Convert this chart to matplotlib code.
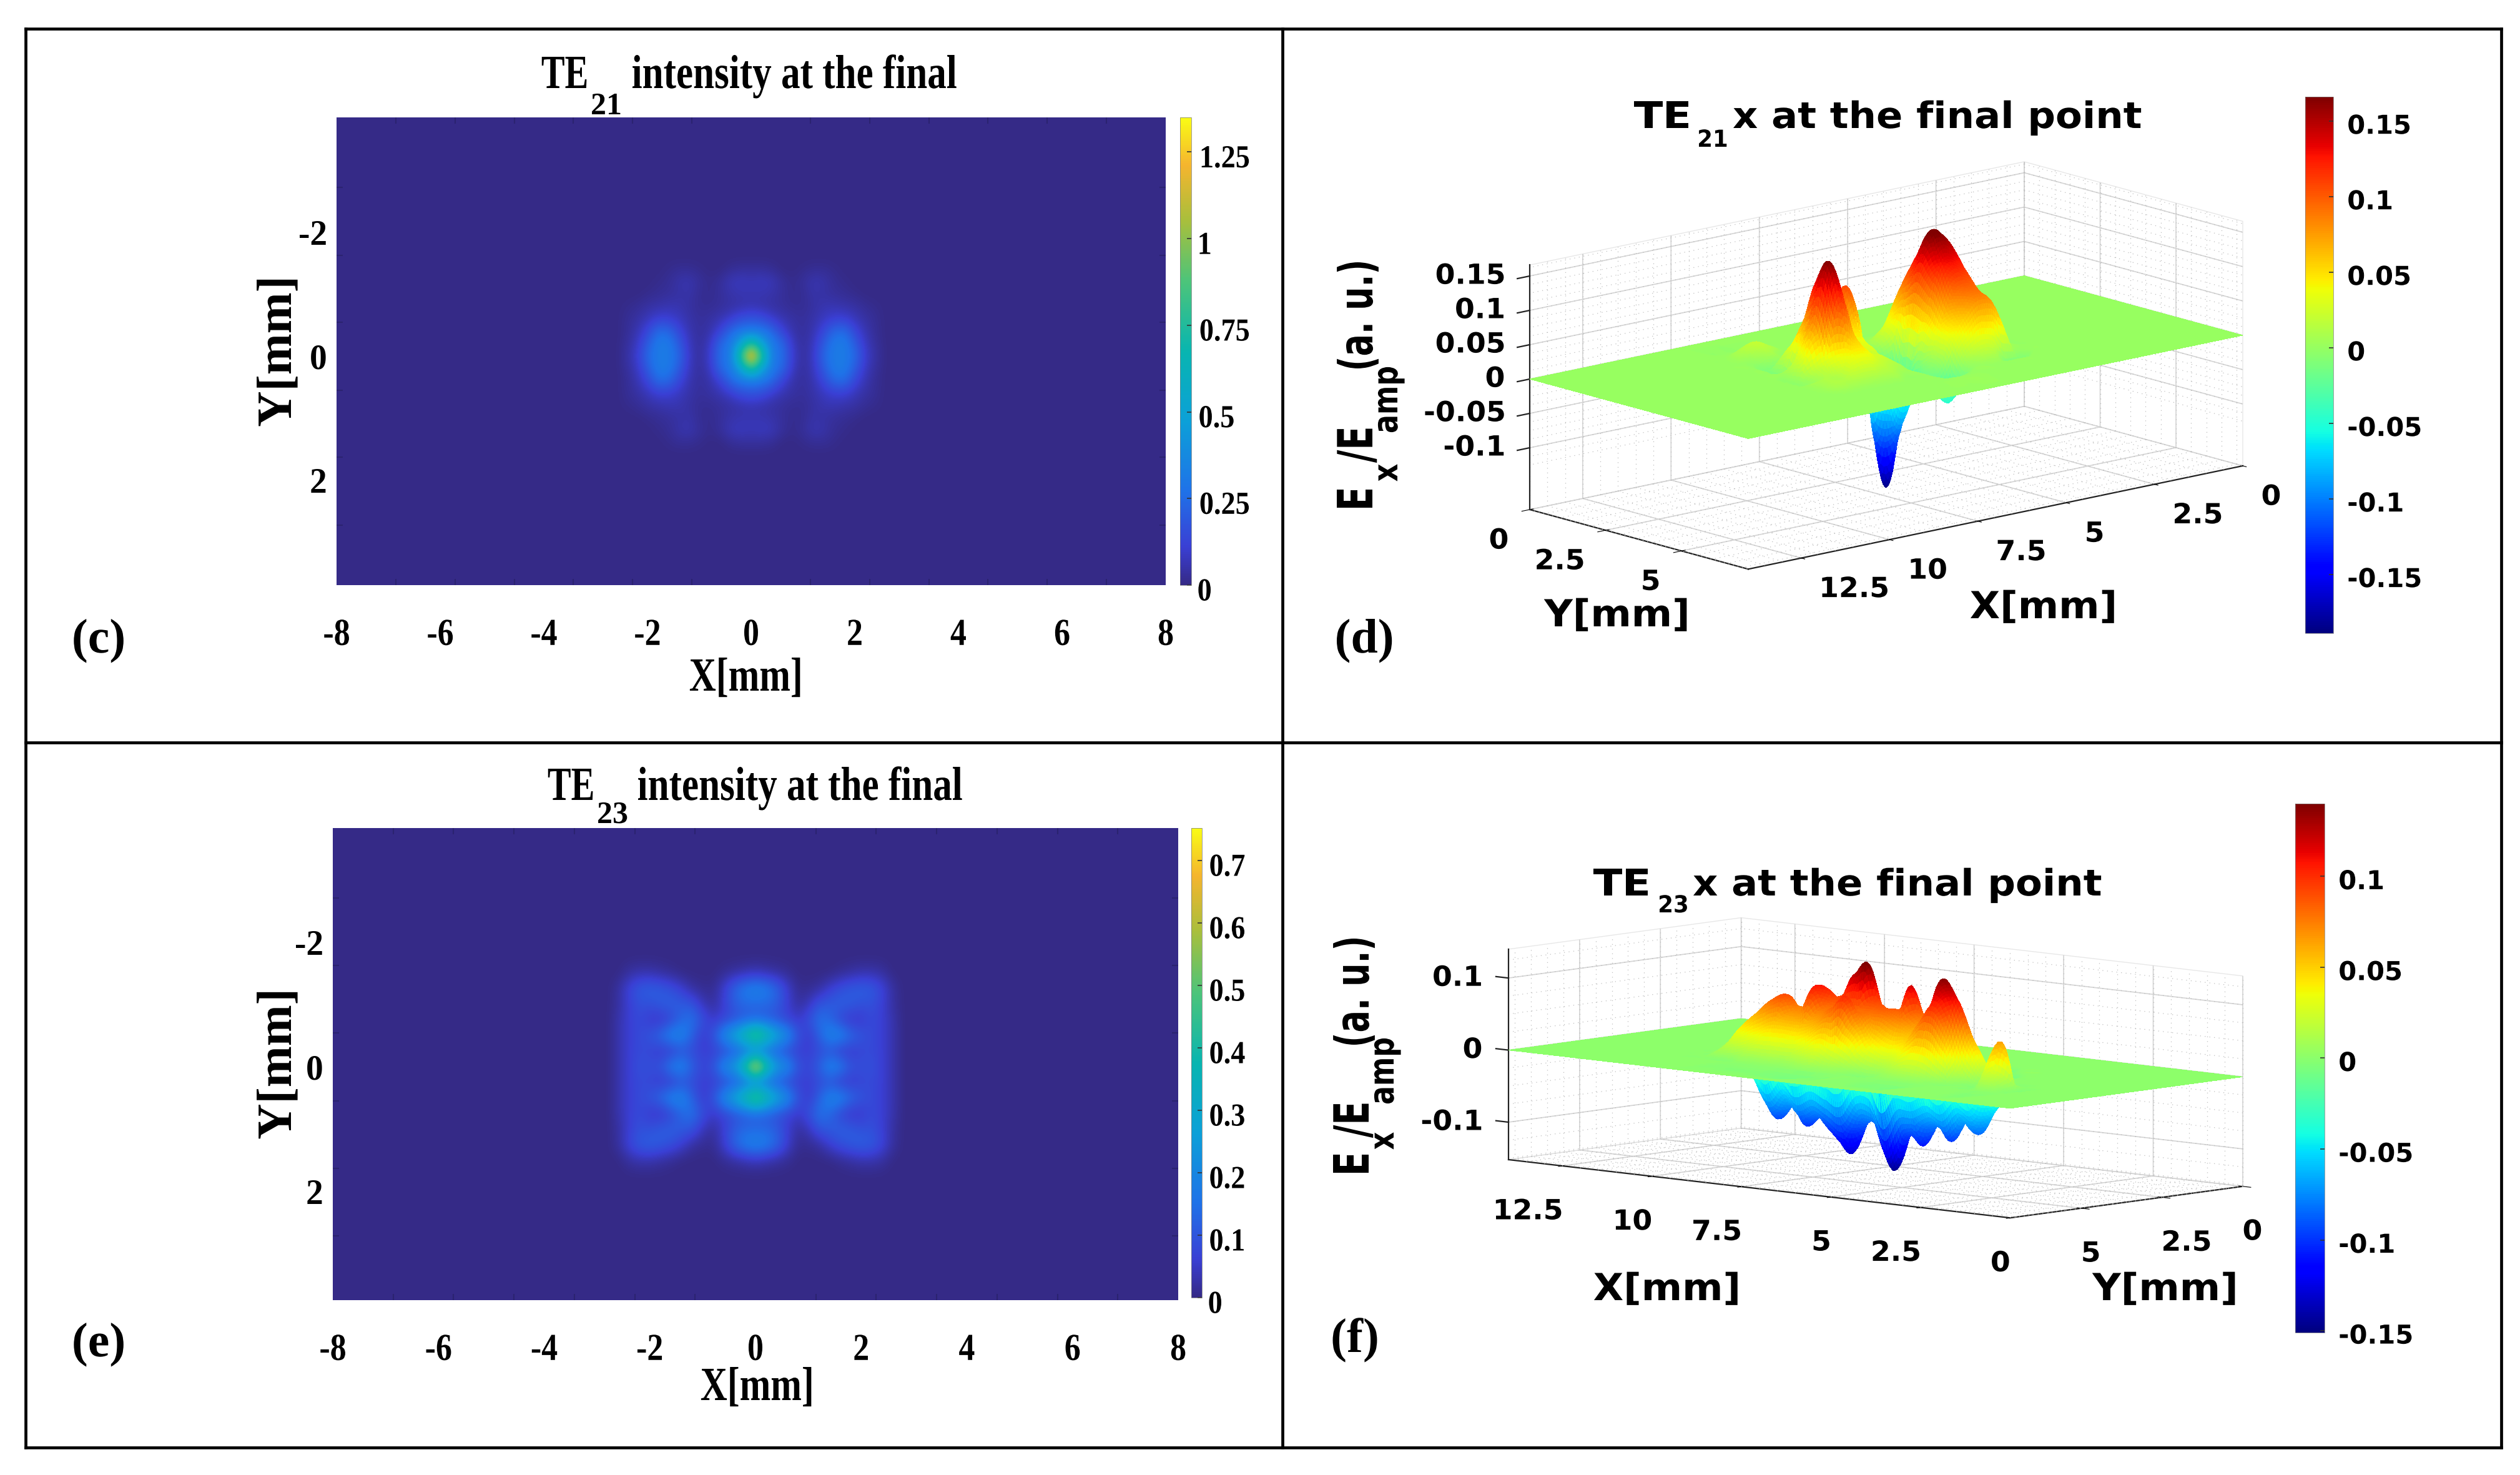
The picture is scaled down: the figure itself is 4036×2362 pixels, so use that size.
import numpy as np
import matplotlib
matplotlib.use("Agg")
import matplotlib.pyplot as plt
from matplotlib.colors import LinearSegmentedColormap, Normalize
from matplotlib.cm import ScalarMappable
from matplotlib.lines import Line2D
from matplotlib.patheffects import AbstractPathEffect
from matplotlib.transforms import Affine2D, ScaledTranslation
from matplotlib.tri import CubicTriInterpolator, Triangulation, UniformTriRefiner
from mpl_toolkits.mplot3d import proj3d

W, H = 4037, 2362

# intensity maps, one quadrant (x>=0, y>=0), mirrored later
c_x = [0, 0.2, 0.4, 0.6, 0.8, 1.0, 1.2, 1.4, 1.6, 1.8, 2.0, 2.2, 2.4, 2.6]
c_y = [0, 0.2, 0.4, 0.6, 0.8, 1.0, 1.2, 1.4, 1.6]
c_int = [
    [1.35, .80, .30, .26, .10, .03, .09, .24, .31, .31, .24, .10, .04, 0],
    [.80, .50, .30, .24, .08, .03, .08, .20, .31, .31, .20, .08, .03, 0],
    [.30, .29, .24, .12, .05, .03, .06, .14, .24, .25, .13, .06, .02, 0],
    [.18, .16, .10, .06, .04, .03, .05, .08, .11, .11, .07, .04, .02, 0],
    [.06, .05, .04, .03, .02, .02, .04, .06, .06, .05, .04, .02, .01, 0],
    [.06, .06, .05, .03, .01, .02, .05, .04, .03, .02, .01, 0, 0, 0],
    [.07, .08, .07, .03, .01, .03, .06, .05, .02, .01, 0, 0, 0, 0],
    [.03, .03, .02, 0, 0, .01, .02, .02, .01, 0, 0, 0, 0, 0],
    [0, 0, 0, 0, 0, 0, 0, 0, 0, 0, 0, 0, 0, 0],
]
e_x = [0, 0.2, 0.4, 0.6, 0.8, 1.0, 1.2, 1.4, 1.6, 1.8, 2.0, 2.2, 2.4, 2.6, 2.8]
e_y = [0, 0.25, 0.5, 0.75, 1.0, 1.25, 1.5, 1.75]
e_int = [
    [.75, .45, .26, .22, .10, .07, .12, .20, .18, .10, .09, .09, .06, .03, 0],
    [.14, .12, .10, .07, .06, .06, .08, .09, .05, .05, .07, .08, .06, .03, 0],
    [.55, .42, .30, .22, .10, .05, .12, .20, .20, .14, .10, .08, .06, .03, 0],
    [.12, .11, .09, .07, .05, .09, .15, .13, .07, .04, .05, .08, .06, .03, 0],
    [.13, .13, .11, .06, .02, .04, .10, .11, .12, .11, .09, .09, .06, .02, 0],
    [.20, .18, .13, .06, .01, .01, .02, .06, .09, .11, .12, .11, .07, .02, 0],
    [.04, .03, .02, .01, 0, 0, 0, 0, .01, .02, .03, .03, .02, 0, 0],
    [0, 0, 0, 0, 0, 0, 0, 0, 0, 0, 0, 0, 0, 0, 0],
]

# Ex surfaces, hundredths of a.u., only the active part of the plane (rest is 0)
d_x = [3.8, 4.2, 4.6, 5.0, 5.4, 5.8, 6.2, 6.6, 7.0, 7.4, 7.8, 8.2, 8.6, 9.0, 9.4, 9.8, 10.2]
d_y = [1.6, 2.0, 2.4, 2.8, 3.2, 3.6, 4.0, 4.4, 4.8, 5.2, 5.6]
d_z = [
    [0, 0, 0, 0, 0, 0, 0, 0, 0, 0, 0, 0, 1, 2, 1, 0, 0],
    [0, 0, 0, 0, 0, 0, 0, 0, -1, -1, 0, 0, 0, 1, 0, 0, 0],
    [0, 0, 0, 1, 2, 2, 1, 0, -1, 2, 3, 1, 0, -1, -1, 0, 0],
    [0, 0, 1, 4, 8, 9, 4, 1, -2, 5, 7, 2, 2, 3, -1, 0, 0],
    [0, -1, 2, 9, 13, 13, 6, -2, -10, 5, 10.5, 3, 4, 7, -2, 0, 0],
    [0, -1, 3, 11, 16, 16.5, 7, -8, -19, -9, 5, 1, 7, 13, 4, 0, 0],
    [0, 0, 3, 10, 13, 13, 6, -4, -10, -4, 3, 2, 11, 16.5, 8, 0, 0],
    [0, 0, 2, 8, 10, 9, 4, -1, -3, 0, 2, 3, 6, 11, 3, 0, 0],
    [0, 0, 1, 7, 8, 6, 3, -1, -1, 0, 1, 2, 4, 4, 1, 1, 0],
    [0, 0, -1, -1, 2, 2, 0, -5, -3, 0, 0, 1, 1, 1, 1, 1, 0],
    [0, 0, 0, 0, 0, 0, 0, -1, -1, 0, 0, 0, 0, 0, 0, 0, 0],
]
f_x = [11.2, 10.8, 10.4, 10.0, 9.6, 9.2, 8.8, 8.4, 8.0, 7.6, 7.2, 6.8, 6.4, 6.0, 5.6,
       5.2, 4.8, 4.4, 4.0, 3.6, 3.2, 2.8, 2.4, 2.0]
f_y = [2.0, 2.4, 2.8, 3.2, 3.6, 4.0, 4.4, 4.8, 5.2]
f_z = [
    [0, 0, 0, 0, 0, 0, 0, 0, 0, 0, 0, 0, 0, 0, 0, 0, 0, 0, 0, 0, 0, 0, 0, 0],
    [0, 0, 0, -1, -1, -1, -1, -1, -2, -2, -1, -2, -2, -1, -1, -1, -1, -1, 0, 0, 0, 0, 0, 0],
    [0, 0, -1, -3, -3, -3, -3, -3, -4, -4, -3, -4, -4, -3, -3, -2, -2, -2, -1, 0, 0, 0, 0, 0],
    [0, -1, -7, -9.5, -7.5, -10, -8.5, -11, -13.3, -9, -9, -14.9, -10, -11.1, -8, -10, -7, -8.5, -5, -1, 0, 0, 0, 0],
    [0, 0, -4, -7, -5, -7, -6, -7, -8, -5, -5, -9, -6, -6, -5, -6, -4, -5, -2, 0, 0, 0, 0, 0],
    [0, 0, 2, 4, 5, 6, 6, 6, 7, 8, 12, 14, 8, 7, 11.5, 7, 6, 5, 3, 1, 0, 0, 0, 0],
    [0, 0, 1, 4, 6, 8, 9, 7, 10.6, 8, 8, 8, 8, 8, 7, 6, 8, 13.7, 11.2, 6, 2, 0, 0, 0],
    [0, 0, 0, 2, 3, 4, 5, 5, 5, 6, 8, 10, 7, 4, 3, 4, 7, 9.5, 7, 2, 0, 1, 6.4, 0],
    [0, 0, 0, 0, 0, 1, 1, 1, 1, 2, 3, 2, 1, 0, 0, 1, 2, 2, 1, 0, 0, 0, 2, 0],
]

# tick labels
map_xticks = [-8, -6, -4, -2, 0, 2, 4, 6, 8]
map_yticks = [-2, 0, 2]
c_cbar = [0, 0.25, 0.5, 0.75, 1, 1.25]
e_cbar = [0, 0.1, 0.2, 0.3, 0.4, 0.5, 0.6, 0.7]
d_cbar = [-0.15, -0.1, -0.05, 0, 0.05, 0.1, 0.15]
f_cbar = [-0.15, -0.1, -0.05, 0, 0.05, 0.1]
d_zticks = [-0.1, -0.05, 0, 0.05, 0.1, 0.15]
f_zticks = [-0.1, 0, 0.1]
surf_xticks = [0, 2.5, 5, 7.5, 10, 12.5]
surf_yticks = [0, 2.5, 5]

parula = LinearSegmentedColormap.from_list("parula_like", [
    (0.00, "#352a87"), (0.08, "#3a3fd4"), (0.20, "#1f72e8"), (0.35, "#0ca0d8"),
    (0.50, "#08b5b0"), (0.65, "#4cc47a"), (0.78, "#a8bf3c"), (0.90, "#f5b52e"),
    (1.00, "#f9fb15")])

SERIF = "Liberation Serif"
SANS = "DejaVu Sans"


class Squeeze(AbstractPathEffect):
    # the original text is stretched or narrowed along its direction
    def __init__(self, k):
        super().__init__()
        self.k = k

    def draw_path(self, renderer, gc, tpath, affine, rgbFace=None):
        box = tpath.get_extents()
        mid = (box.x0 + box.x1) / 2
        t = Affine2D().translate(-mid, 0).scale(self.k, 1).translate(mid, 0)
        renderer.draw_path(gc, tpath, t + affine, rgbFace)


fig = plt.figure(figsize=(W / 100, H / 100), dpi=100, facecolor="white")


def px_text(x, y, s, size, family=SERIF, k=1.0, rot=0, ha="center", va="baseline"):
    fig.text(x / W, 1 - y / H, s, fontsize=size, family=family, weight="bold",
             rotation=rot, rotation_mode="anchor", ha=ha, va=va,
             path_effects=[Squeeze(k)])


def fmt(v):
    return f"{v:g}"


def add_colorbar(box, cmap, vmin, vmax, ticks, size, family, k, pad, drop):
    cax = fig.add_axes([box[0] / W, 1 - box[3] / H, (box[2] - box[0]) / W, (box[3] - box[1]) / H])
    cb = fig.colorbar(ScalarMappable(Normalize(vmin, vmax), cmap), cax=cax)
    cb.set_ticks(ticks)
    cb.set_ticklabels([fmt(t) for t in ticks])
    cb.outline.set_linewidth(0.5)
    cb.outline.set_edgecolor("#777777")
    cax.tick_params(length=5, width=1.2, direction="in", pad=pad, color="#333333")
    shift = ScaledTranslation(0, -drop / 100, fig.dpi_scale_trans)
    for lab in cax.get_yticklabels():
        lab.set_fontsize(size)
        lab.set_family(family)
        lab.set_weight("bold")
        lab.set_path_effects([Squeeze(k)])
        lab.set_transform(lab.get_transform() + shift)


def intensity_panel(box, xq, yq, zq, vmax, ycen_lims, cbar_box, cbar_ticks):
    ax = fig.add_axes([box[0] / W, 1 - box[3] / H, (box[2] - box[0]) / W, (box[3] - box[1]) / H])
    q = np.array(zq)
    full = np.vstack([q[:0:-1], q])
    full = np.hstack([full[:, :0:-1], full])
    dx = xq[1] - xq[0]
    dy = yq[1] - yq[0]
    ax.set_facecolor(parula(0))
    ax.imshow(full, cmap=parula, vmin=0, vmax=vmax, interpolation="bicubic", aspect="auto",
              extent=[-xq[-1] - dx / 2, xq[-1] + dx / 2, yq[-1] + dy / 2, -yq[-1] - dy / 2])
    ax.set_xlim(-8, 8)
    ax.set_ylim(ycen_lims[1], ycen_lims[0])
    ax.set_xticks(map_xticks)
    ax.set_xticklabels([fmt(t) for t in map_xticks])
    ax.set_yticks(map_yticks)
    ax.set_yticklabels([fmt(t) for t in map_yticks])
    ax.set_xticks([-8 + i * 8 / 7 for i in range(15)], minor=True)
    ax.set_yticks([-2.72, -1.63, -0.545, 0.545, 1.63, 2.72], minor=True)
    ax.tick_params(which="major", length=0)
    ax.tick_params(which="minor", direction="in", length=7, width=1.5, color="#2b2370",
                   top=True, right=True)
    ax.tick_params(axis="x", which="major", pad=38)
    ax.tick_params(axis="y", which="major", pad=11)
    for lab in ax.get_xticklabels():
        lab.set_fontsize(44)
        lab.set_family(SERIF)
        lab.set_weight("bold")
        lab.set_path_effects([Squeeze(0.85)])
    for lab in ax.get_yticklabels():
        lab.set_fontsize(40)
        lab.set_family(SERIF)
        lab.set_weight("bold")
    for sp in ax.spines.values():
        sp.set_visible(False)
    add_colorbar(cbar_box, parula, 0, vmax, cbar_ticks, 37, SERIF, 0.9, 6, 7)


def to_px(ax, p):
    xs, ys, _ = proj3d.proj_transform(p[0], p[1], p[2], ax.get_proj())
    dx, dy = ax.transData.transform((xs, ys))
    return dx, H - dy


def fit_box(ax, p_a, p_b, a_px, b_px):
    # scale and shift the axes so two floor corners land where they are in the picture
    ax.apply_aspect()
    a, b = to_px(ax, p_a), to_px(ax, p_b)
    k = (b_px[0] - a_px[0]) / (b[0] - a[0])
    pos = ax.get_position(original=True)
    ax.set_position([pos.x0, pos.y0, pos.width * k, pos.height * k])
    ax.apply_aspect()
    a = to_px(ax, p_a)
    pos = ax.get_position(original=True)
    ax.set_position([pos.x0 + (a_px[0] - a[0]) / W, pos.y0 - (a_px[1] - a[1]) / H,
                     pos.width, pos.height])
    ax.apply_aspect()


def surface_panel(xn, yn, zn, zlim, view, aspect, pane_x, z_corner, p_a, p_b, a_px, b_px, zticks):
    ax = fig.add_axes([0.5, 0.3, 1400 / W, 1400 / H], projection="3d", computed_zorder=False)
    ax.set_proj_type("ortho")
    ax.patch.set_alpha(0)
    ax.set_xlim(0, 14)
    ax.set_ylim(0, 7.2)
    ax.set_zlim(*zlim)
    ax.view_init(elev=view[0], azim=view[1])
    ax.set_box_aspect(aspect)

    # two rings of zero nodes keep the plane flat outside the read block
    xs = sorted(xn)
    order = np.argsort(xn)
    xa = np.array([0, xs[0] - 0.4] + xs + [xs[-1] + 0.4, 14.0])
    ya = np.array([0, yn[0] - 0.4] + list(yn) + [yn[-1] + 0.4, 7.2])
    z = np.pad(np.array(zn)[:, order] / 100, 2)
    xg, yg = np.meshgrid(xa, ya)
    tri = Triangulation(xg.ravel(), yg.ravel())
    # display only: the library refiner smooths the drawing of the read table
    interp = CubicTriInterpolator(tri, z.ravel(), kind="geom")
    fine_tri, fine_z = UniformTriRefiner(tri).refine_field(z.ravel(), triinterpolator=interp, subdiv=3)
    ax.plot_trisurf(fine_tri, fine_z, cmap="jet", vmin=zlim[0], vmax=zlim[1],
                    linewidth=0, antialiased=False, shade=False, zorder=5)

    ax.set_xticks(surf_xticks)
    ax.set_yticks(surf_yticks)
    ax.set_zticks(zticks)
    ax.set_xticklabels([])
    ax.set_yticklabels([])
    ax.set_zticklabels([])
    for axis in (ax.xaxis, ax.yaxis, ax.zaxis):
        axis.pane.set_facecolor("white")
        axis.pane.set_edgecolor("#d0d0d0")
        axis.line.set_color("#222222")
        axis.line.set_linewidth(1.6)
        axis._axinfo["grid"].update(color="#d4d4d4", linewidth=1.2)

    # z axis goes on the left edge whatever the view, as in the picture
    ax.zaxis.line.set_color((0, 0, 0, 0))
    ax.zaxis._axinfo["tick"].update(inward_factor=0, outward_factor=0)
    ax.plot([z_corner[0]] * 2, [z_corner[1]] * 2, zlim, color="#222222", lw=1.6, zorder=2)
    for t in zticks:
        ax.plot([z_corner[0], z_corner[0] + 0.35], [z_corner[1]] * 2, [t, t],
                color="#222222", lw=1.6, zorder=2)

    # dotted minor grid on the floor and the two back walls
    dots = dict(color="#bdbdbd", lw=0.9, ls=(0, (1, 5)), zorder=1)
    xm = np.arange(0, 14.01, 0.5)
    ym = np.arange(0, 7.21, 0.5)
    zm = np.arange(zticks[0] - 0.5 * (zticks[1] - zticks[0]), zlim[1], (zticks[1] - zticks[0]) / 4)
    zm = zm[zm > zlim[0]]
    for v in xm:
        ax.plot([v, v], [0, 7.2], [zlim[0], zlim[0]], **dots)
        ax.plot([v, v], [0, 0], zlim, **dots)
    for v in ym:
        ax.plot([0, 14], [v, v], [zlim[0], zlim[0]], **dots)
        ax.plot([pane_x, pane_x], [v, v], zlim, **dots)
    for v in zm:
        ax.plot([0, 14], [0, 0], [v, v], **dots)
        ax.plot([pane_x, pane_x], [0, 7.2], [v, v], **dots)

    fit_box(ax, p_a, p_b, a_px, b_px)
    return ax


def tick_text(ax, p, s, dx, dy, ha, size=32):
    px, py = to_px(ax, p)
    px_text(px + dx, py + dy, s, size, family=SANS, k=1.03, ha=ha, va="center")


# panel (c)
intensity_panel((539, 188, 1867, 937), c_x, c_y, c_int, 1.35, (-3.85, 3.69),
                (1890, 188, 1908, 937), c_cbar)
px_text(905, 141, "TE", 55, k=0.74)
px_text(971, 183, "21", 36)
px_text(1272, 141, "intensity at the final", 55, k=0.8)
px_text(1195, 1106, "X[mm]", 55, k=0.78)
px_text(466, 563, "Y[mm]", 57, rot=90)
px_text(158, 1045, "(c)", 56)

# panel (e)
intensity_panel((533, 1326, 1887, 2082), e_x, e_y, e_int, 0.752, (-3.84, 3.75),
                (1908, 1326, 1925, 2078), e_cbar)
px_text(915, 1281, "TE", 55, k=0.74)
px_text(981, 1318, "23", 36)
px_text(1281, 1281, "intensity at the final", 55, k=0.8)
px_text(1213, 2242, "X[mm]", 55, k=0.78)
px_text(466, 1704, "Y[mm]", 57, rot=90)
px_text(158, 2172, "(e)", 56)

# panel (d)
ax_d = surface_panel(d_x, d_y, d_z, (-0.19, 0.166), (13.8, 48.8), (1052, 531, 403), 0, (14, 0),
                     (14, 0, -0.19), (0, 7.2, -0.19), (2450, 816), (3592, 744), d_zticks)
for t in surf_xticks:
    tick_text(ax_d, (t, 7.2, -0.19), fmt(t), 30, 50, "left")
for t in surf_yticks:
    tick_text(ax_d, (14, t, -0.19), fmt(t), -34, 50, "right")
for t in d_zticks:
    tick_text(ax_d, (14, 0, t), fmt(t), -40, 0, "right")
add_colorbar((3692, 155, 3737, 1014), plt.get_cmap("jet"), -0.189, 0.166, d_cbar, 30, SANS, 1.0, 16, 4)
px_text(2663, 205, "TE", 42, family=SANS, k=1.16)
px_text(2743, 235, "21", 27, family=SANS, k=0.95)
px_text(3103, 205, "x at the final point", 42, family=SANS, k=1.07)
px_text(3273, 990, "X[mm]", 43, family=SANS, k=1.05)
px_text(2590, 1003, "Y[mm]", 43, family=SANS, k=1.05)
px_text(2198, 799, "E", 56, family=SANS, k=0.72, rot=90)
px_text(2238, 757, "x", 40, family=SANS, k=0.8, rot=90)
px_text(2198, 711, "/E", 56, family=SANS, k=0.72, rot=90)
px_text(2238, 640, "amp", 40, family=SANS, k=0.8, rot=90)
px_text(2198, 505, "(a. u.)", 54, family=SANS, k=0.7, rot=90)
px_text(2185, 1045, "(d)", 56)

# panel (f)
ax_f = surface_panel(f_x, f_y, f_z, (-0.152, 0.14), (7.2, 132.8), (1096, 549, 340), 14, (14, 7.2),
                     (14, 7.2, -0.152), (0, 0, -0.152), (2416, 1857), (3592, 1900), f_zticks)
for t in surf_xticks:
    tick_text(ax_f, (t, 7.2, -0.152), fmt(t), 0, 73, "right")
for t in surf_yticks:
    tick_text(ax_f, (0, t, -0.152), fmt(t), 0, 73, "left")
for t in f_zticks:
    tick_text(ax_f, (14, 7.2, t), fmt(t), -42, 0, "right")
add_colorbar((3676, 1287, 3723, 2134), plt.get_cmap("jet"), -0.151, 0.14, f_cbar, 30, SANS, 1.0, 16, 4)
px_text(2598, 1434, "TE", 42, family=SANS, k=1.16)
px_text(2680, 1461, "23", 27, family=SANS, k=0.95)
px_text(3039, 1434, "x at the final point", 42, family=SANS, k=1.07)
px_text(2670, 2082, "X[mm]", 43, family=SANS, k=1.05)
px_text(3468, 2082, "Y[mm]", 43, family=SANS, k=1.05)
px_text(2192, 1864, "E", 56, family=SANS, k=0.72, rot=90)
px_text(2232, 1827, "x", 40, family=SANS, k=0.8, rot=90)
px_text(2192, 1792, "/E", 56, family=SANS, k=0.72, rot=90)
px_text(2232, 1715, "amp", 40, family=SANS, k=0.8, rot=90)
px_text(2192, 1588, "(a. u.)", 54, family=SANS, k=0.7, rot=90)
px_text(2170, 2165, "(f)", 56)

# table frame
for xs_, ys_ in [((41, 4006), (46, 46)), ((41, 4006), (2318, 2318)), ((41, 41), (46, 2318)),
                 ((4006, 4006), (46, 2318)), ((2054, 2054), (46, 2318)), ((41, 4006), (1189, 1189))]:
    fig.add_artist(Line2D([v / W for v in xs_], [1 - v / H for v in ys_], color="black", lw=3.4))

fig.savefig("out.png", dpi=100)
